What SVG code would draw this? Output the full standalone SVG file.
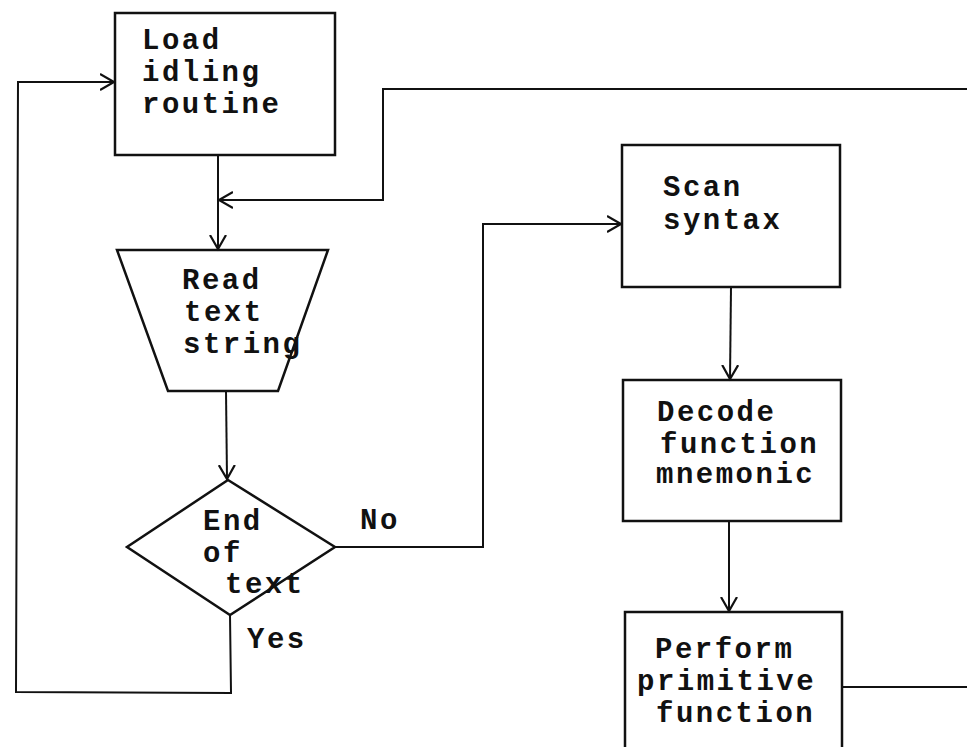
<svg xmlns="http://www.w3.org/2000/svg" width="967" height="747" viewBox="0 0 967 747">
<style>
.shape{fill:none;stroke:#111;stroke-width:2.5}
.edge{fill:none;stroke:#111;stroke-width:2}
text{font-family:"Liberation Mono","Courier New",monospace;font-weight:bold;font-size:29px;letter-spacing:2.5px;fill:#111}
</style>
<defs>
<marker id="arr" markerUnits="userSpaceOnUse" markerWidth="20" markerHeight="20" refX="14" refY="8" orient="auto" viewBox="0 0 20 16">
<path d="M0,0 L14,8 L0,16" fill="none" stroke="#111" stroke-width="2.2"/>
</marker>
</defs>
<rect width="967" height="747" fill="#fff"/>
<g id="connectors">
<polyline class="edge" points="218,155 218,249" marker-end="url(#arr)"/>
<polyline class="edge" points="967,89 383,89 383,200 219,200" marker-end="url(#arr)"/>
<polyline class="edge" points="226,391 227,479" marker-end="url(#arr)"/>
<polyline class="edge" points="335,547 483,547 483,224 621,224" marker-end="url(#arr)"/>
<polyline class="edge" points="230,615 231,693 16,692 18,82 114,82" marker-end="url(#arr)"/>
<polyline class="edge" points="731,287 730,379" marker-end="url(#arr)"/>
<polyline class="edge" points="729,521 729,611" marker-end="url(#arr)"/>
<polyline class="edge" points="842,687 967,687"/>
</g>
<g id="load">
<rect class="shape" x="115" y="13" width="220" height="142"/>
<text x="142" y="49">Load</text>
<text x="142" y="81">idling</text>
<text x="142" y="113">routine</text>
</g>
<g id="read">
<polygon class="shape" points="117,250 328,250 278,391 168,391"/>
<text x="182" y="289">Read</text>
<text x="184" y="321">text</text>
<text x="183" y="353">string</text>
</g>
<g id="endtext">
<polygon class="shape" points="228,480 335,547 230,615 127,547"/>
<text x="203" y="530">End</text>
<text x="203" y="562">of</text>
<text x="225" y="593">text</text>
<text x="360" y="529">No</text>
<text x="247" y="648">Yes</text>
</g>
<g id="scan">
<rect class="shape" x="622" y="145" width="218" height="142"/>
<text x="663" y="196">Scan</text>
<text x="663" y="229">syntax</text>
</g>
<g id="decode">
<rect class="shape" x="623" y="380" width="218" height="141"/>
<text x="657" y="421">Decode</text>
<text x="660" y="453">function</text>
<text x="656" y="483">mnemonic</text>
</g>
<g id="perform">
<rect class="shape" x="625" y="612" width="217" height="150"/>
<text x="655" y="658">Perform</text>
<text x="637" y="690">primitive</text>
<text x="656" y="722">function</text>
</g>
</svg>
